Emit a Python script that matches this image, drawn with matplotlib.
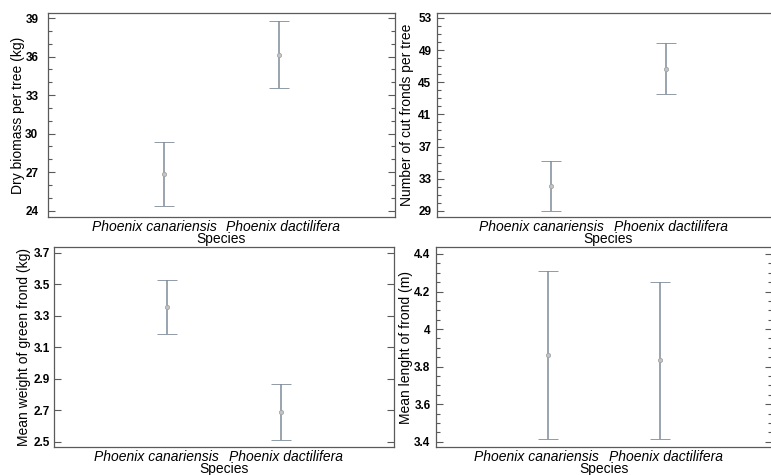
import numpy as np
import matplotlib
matplotlib.use('Agg')
import matplotlib.pyplot as plt
from matplotlib.ticker import MultipleLocator, FormatStrFormatter, NullLocator

plt.rcParams['font.family'] = ['Liberation Sans', 'DejaVu Sans']

species = ['Phoenix canariensis', 'Phoenix dactilifera']

# means and interval limits
biomass_mean = [26.85, 36.15]
biomass_low = [24.37, 33.52]
biomass_high = [29.35, 38.74]

fronds_mean = [32.06, 46.70]
fronds_low = [29.00, 43.50]
fronds_high = [35.16, 49.83]

weight_mean = [3.356, 2.687]
weight_low = [3.184, 2.508]
weight_high = [3.528, 2.867]

length_mean = [3.860, 3.837]
length_low = [3.414, 3.414]
length_high = [4.311, 4.253]

bar_col = '#7f8b98'
spine_col = '#5a5a5a'


def draw_panel(ax, mean, low, high, ylabel, ylim, major, offset, minor, label_x, pad):
    x = np.arange(1, len(species) + 1)
    mean = np.array(mean)
    err = [mean - np.array(low), np.array(high) - mean]
    ax.errorbar(x, mean, yerr=err, fmt='o', ms=3, mfc='#c4c4c4', mec='#a4a4a4',
                mew=0.6, ecolor=bar_col, elinewidth=1.1, capsize=7.5, capthick=1.1)
    ax.set_xlim(0, 3)
    ax.set_ylim(*ylim)
    ax.xaxis.set_major_locator(NullLocator())
    ax.yaxis.set_major_locator(MultipleLocator(major, offset))
    if minor:
        ax.yaxis.set_minor_locator(MultipleLocator(minor, offset))
    else:
        ax.yaxis.set_minor_locator(NullLocator())
    ax.yaxis.set_major_formatter(FormatStrFormatter('%g'))
    ax.tick_params(axis='y', which='both', direction='in', left=True, right=True,
                   color=spine_col, width=0.8, labelsize=8.5, pad=pad)
    ax.tick_params(axis='y', which='major', length=5)
    ax.tick_params(axis='y', which='minor', length=3)
    for lbl in ax.get_yticklabels():
        lbl.set_fontweight('bold')
        lbl.set_family(['Liberation Sans Narrow', 'Liberation Sans'])
    for sp in ax.spines.values():
        sp.set_color(spine_col)
        sp.set_linewidth(0.9)
    ax.set_ylabel(ylabel, fontsize=10)
    ax.yaxis.set_label_coords(label_x, 0.5)
    ax.annotate(species[0], (0.5, 0), xycoords='axes fraction', xytext=(-5, -10),
                textcoords='offset pixels', ha='right', va='center',
                fontsize=10, style='italic')
    ax.annotate(species[1], (0.5, 0), xycoords='axes fraction', xytext=(5, -10),
                textcoords='offset pixels', ha='left', va='center',
                fontsize=10, style='italic')
    ax.annotate('Species', (0.5, 0), xycoords='axes fraction', xytext=(0, -22),
                textcoords='offset pixels', ha='center', va='center', fontsize=10)


fig = plt.figure(figsize=(7.71, 4.75), dpi=100)
W, H = 771, 475


def box(left, right, top, bottom):
    return [left / W, 1 - bottom / H, (right - left) / W, (bottom - top) / H]


ax1 = fig.add_axes(box(48, 395, 13, 217))
ax2 = fig.add_axes(box(437, 780, 13, 217))
ax3 = fig.add_axes(box(54, 394, 247, 447))
ax4 = fig.add_axes(box(436, 772, 247, 447))

draw_panel(ax1, biomass_mean, biomass_low, biomass_high,
           'Dry biomass per tree (kg)', (23.5, 39.4), 3, 0, 1, -0.066, 7)
draw_panel(ax2, fronds_mean, fronds_low, fronds_high,
           'Number of cut fronds per tree', (28.25, 53.6), 4, 1, 1, -0.067, 4)
draw_panel(ax3, weight_mean, weight_low, weight_high,
           'Mean weight of green frond (kg)', (2.466, 3.738), 0.2, 0.1, None, -0.068, 3)
draw_panel(ax4, length_mean, length_low, length_high,
           'Mean lenght of frond (m)', (3.372, 4.437), 0.2, 0, 0.05, -0.067, 4)

fig.savefig('out.png', dpi=100)
